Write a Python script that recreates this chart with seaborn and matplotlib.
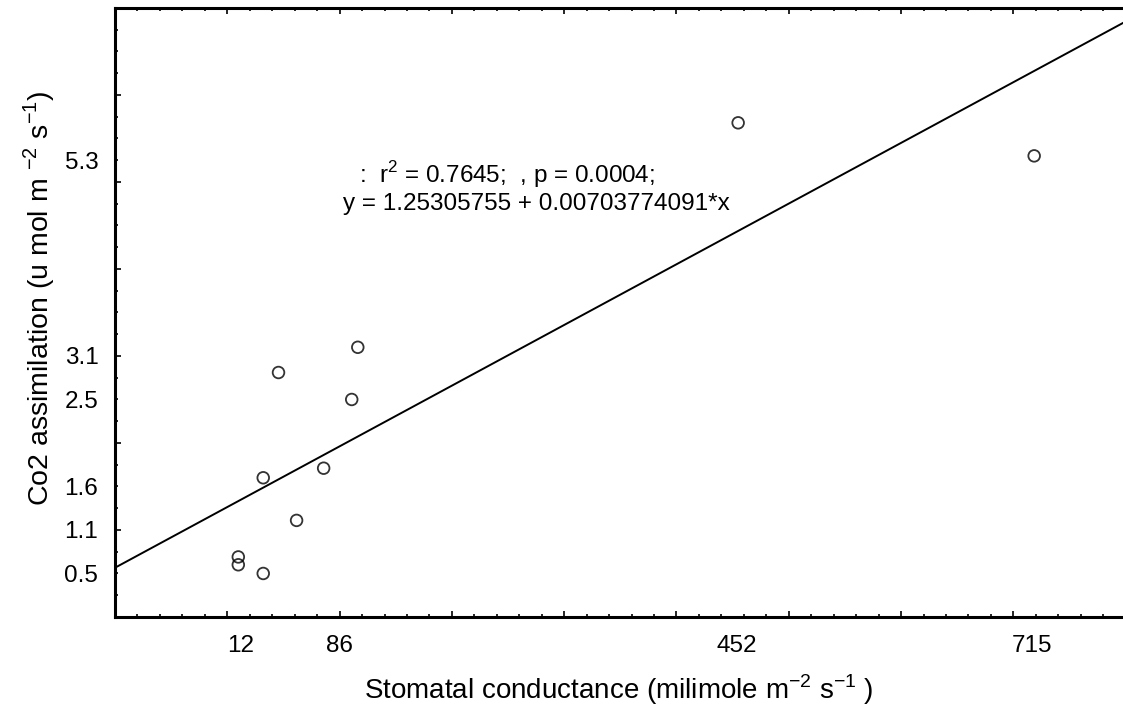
import numpy as np
import pandas as pd
import matplotlib
matplotlib.use("Agg")
import matplotlib.pyplot as plt
from matplotlib.ticker import MultipleLocator, NullFormatter
import seaborn as sns

# ── data ─────────────────────────────────────────────────────────────────────
conductance = [9.8, 9.8, 32, 32, 45.6, 61.7, 85.8, 110.8, 116.2, 454.9, 718.5]
assimilation = [0.69, 0.60, 0.50, 1.60, 2.81, 1.11, 1.71, 2.50, 3.10, 5.68, 5.30]

x_tick_pos = [12, 100, 454, 717]
x_tick_lab = ["12", "86", "452", "715"]
y_tick_pos = [0.5, 1.0, 1.5, 2.5, 3.0, 5.25]
y_tick_lab = ["0.5", "1.1", "1.6", "2.5", "3.1", "5.3"]

r2, pval = 0.7645, 0.0004
intercept, slope = 1.25305755, 0.00703774091

df = pd.DataFrame({"x": conductance, "y": assimilation})

sns.set_theme(style="white")
plt.rcParams["font.family"] = ["Liberation Sans", "DejaVu Sans"]
plt.rcParams["mathtext.fontset"] = "custom"
plt.rcParams["mathtext.rm"] = "Liberation Sans"
plt.rcParams["text.color"] = "black"
plt.rcParams["xtick.color"] = "black"
plt.rcParams["ytick.color"] = "black"
plt.rcParams["xtick.labelcolor"] = "black"
plt.rcParams["ytick.labelcolor"] = "black"

fig = plt.figure(figsize=(11.23, 7.19), dpi=100)
ax = fig.add_axes([0.1024, 0.1419, 0.9, 0.847])
ax.set_xlim(-100, 800)
ax.set_ylim(0, 7)

sns.regplot(data=df, x="x", y="y", ci=None, truncate=False, ax=ax,
            scatter_kws=dict(s=70, facecolors="none", edgecolors="black", linewidths=1.3),
            line_kws=dict(color="black", lw=1.4))
ax.set_xlim(-100, 800)
ax.set_ylim(0, 7)

# regular tick marks, no labels
ax.xaxis.set_major_locator(MultipleLocator(100))
ax.xaxis.set_minor_locator(MultipleLocator(20))
ax.yaxis.set_major_locator(MultipleLocator(1))
ax.yaxis.set_minor_locator(MultipleLocator(0.25))
ax.xaxis.set_major_formatter(NullFormatter())
ax.yaxis.set_major_formatter(NullFormatter())
ax.tick_params(which="both", direction="in", top=True, bottom=True, left=True, right=False,
               color="black", width=1.2)
ax.tick_params(which="major", length=4.5)
ax.tick_params(which="minor", length=2.2)

# custom labels placed on the nearest ticks
secx = ax.secondary_xaxis("bottom")
secx.set_xticks(x_tick_pos, x_tick_lab)
secx.tick_params(length=0, labelsize=17.5, pad=13, labelcolor="black")
secx.spines["bottom"].set_visible(False)
secy = ax.secondary_yaxis("left")
secy.set_yticks(y_tick_pos, y_tick_lab)
secy.tick_params(length=0, labelsize=17.5, pad=12, labelcolor="black")
secy.spines["left"].set_visible(False)

for side in ["left", "bottom", "top"]:
    ax.spines[side].set_linewidth(2.2)
    ax.spines[side].set_color("black")
ax.spines["right"].set_visible(False)

ax.set_xlabel("")
ax.set_ylabel("")
fig.text(0.551, 0.04, r"Stomatal conductance (milimole m$^{-2}$ s$^{-1}$ )",
         ha="center", va="center", fontsize=20)
fig.text(0.035, 0.585, r"Co2 assimilation (u mol m $^{-2}$ s$^{-1}$)",
         ha="center", va="center", rotation=90, fontsize=20.5)

ax.text(0.241, 0.727, f":  r$^2$ = {r2:.4f};  , p = {pval:.4f};",
        transform=ax.transAxes, fontsize=17.5, ha="left", va="center")
ax.text(0.226, 0.678, f"y = {intercept:.8f} + {slope:.11f}*x",
        transform=ax.transAxes, fontsize=17.5, ha="left", va="center")

fig.savefig("out.png", dpi=100)
